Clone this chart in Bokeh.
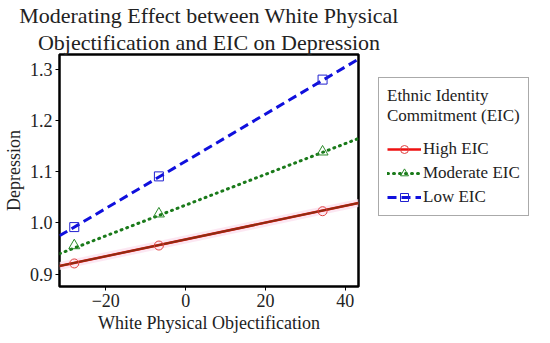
from bokeh.plotting import figure
from bokeh.models import Range1d, Legend, LegendItem, Title, FixedTicker
from bokeh.embed import file_html
from bokeh.resources import INLINE

# data
x_points = [-27.9, -6.7, 34.3]
high_pts = [0.921, 0.956, 1.023]
moderate_pts = [0.956, 1.018, 1.139]
low_pts = [0.992, 1.091, 1.280]

x_line = [-31.6, 43.3]
high_line = [0.916, 1.039]
moderate_line = [0.940, 1.165]
low_line = [0.975, 1.320]

band_x = [-31.6, 43.3]
band_low = [0.908, 1.031]
band_high = [0.924, 1.047]

x_ticks = [-20, 0, 20, 40]
x_tick_labels = {-20: "\u221220", 0: "0", 20: "20", 40: "40"}
y_ticks = [0.9, 1.0, 1.1, 1.2, 1.3]
y_tick_labels = {0.9: "0.9", 1.0: "1.0", 1.1: "1.1", 1.2: "1.2", 1.3: "1.3"}

FONT = "Liberation Serif"

p = figure(frame_width=299, frame_height=232, output_backend="svg", toolbar_location=None,
           x_range=Range1d(-31.6, 43.3), y_range=Range1d(0.876, 1.329),
           min_border_left=57, min_border_right=178, min_border_top=0, min_border_bottom=0)

p.outline_line_color = "black"
p.outline_line_width = 2.5
p.xgrid.visible = False
p.ygrid.visible = False

for ax in (p.xaxis[0], p.yaxis[0]):
    ax.axis_line_color = None
    ax.minor_tick_line_color = None
    ax.major_tick_in = 0
    ax.major_tick_out = 4
    ax.major_tick_line_color = "black"
    ax.major_label_text_font = FONT
    ax.major_label_text_font_size = "18px"
    ax.major_label_text_color = "#222222"
    ax.axis_label_text_font = FONT
    ax.axis_label_text_font_size = "18px"
    ax.axis_label_text_font_style = "normal"
    ax.axis_label_text_color = "#222222"
    ax.major_label_standoff = 3
    ax.axis_label_standoff = 3

p.xaxis.ticker = FixedTicker(ticks=x_ticks)
p.yaxis.ticker = FixedTicker(ticks=y_ticks)
p.yaxis.major_label_overrides = y_tick_labels
p.xaxis.major_label_overrides = x_tick_labels
p.xaxis.axis_label = "White Physical Objectification"
p.yaxis.axis_label = "Depression"

p.varea(x=band_x, y1=band_low, y2=band_high, color="#fbe1ef", alpha=0.8)

lh = p.line(x_line, high_line, line_color="#ee1111", line_width=2.5)
p.line(x_line, high_line, line_color="#8e2c12", line_width=2)
lm = p.line(x_line, moderate_line, line_color="#1a7a1a", line_width=3, line_dash="1 5", line_cap="round")
ll = p.line(x_line, low_line, line_color="#1010dd", line_width=3, line_dash="9 5")

c = p.scatter(x_points, high_pts, marker="circle", size=9, fill_color=None, line_color="#e04040", line_width=1)
t = p.scatter(x_points, moderate_pts, marker="triangle", size=11, fill_color=None, line_color="#2a8a2a", line_width=1)
s = p.scatter(x_points, low_pts, marker="square", size=9, fill_color=None, line_color="#2020d0", line_width=1)

legend = Legend(items=[
    LegendItem(label="High EIC", renderers=[lh, c]),
    LegendItem(label="Moderate EIC", renderers=[lm, t]),
    LegendItem(label="Low EIC", renderers=[ll, s]),
], location=(20, 70))
legend.title = "Ethnic Identity\nCommitment (EIC)"
legend.title_text_font = FONT
legend.title_text_font_size = "17px"
legend.title_text_font_style = "normal"
legend.title_text_color = "#222222"
legend.title_standoff = 13
legend.label_text_font = FONT
legend.label_text_font_size = "17px"
legend.label_text_color = "#222222"
legend.border_line_color = "#555555"
legend.border_line_width = 1.5
legend.glyph_width = 34
legend.label_standoff = 2
legend.spacing = 4
legend.padding = 8
legend.margin = 0
p.add_layout(legend, "right")

p.add_layout(Title(text="Objectification and EIC on Depression", align="center", standoff=0,
                   text_font=FONT, text_font_size="22px", text_font_style="normal",
                   text_color="#222222"), "above")
p.add_layout(Title(text="Moderating Effect between White Physical", align="center", standoff=0,
                   text_font=FONT, text_font_size="22px", text_font_style="normal",
                   text_color="#222222"), "above")

open("out.html", "w").write(file_html(p, INLINE))
